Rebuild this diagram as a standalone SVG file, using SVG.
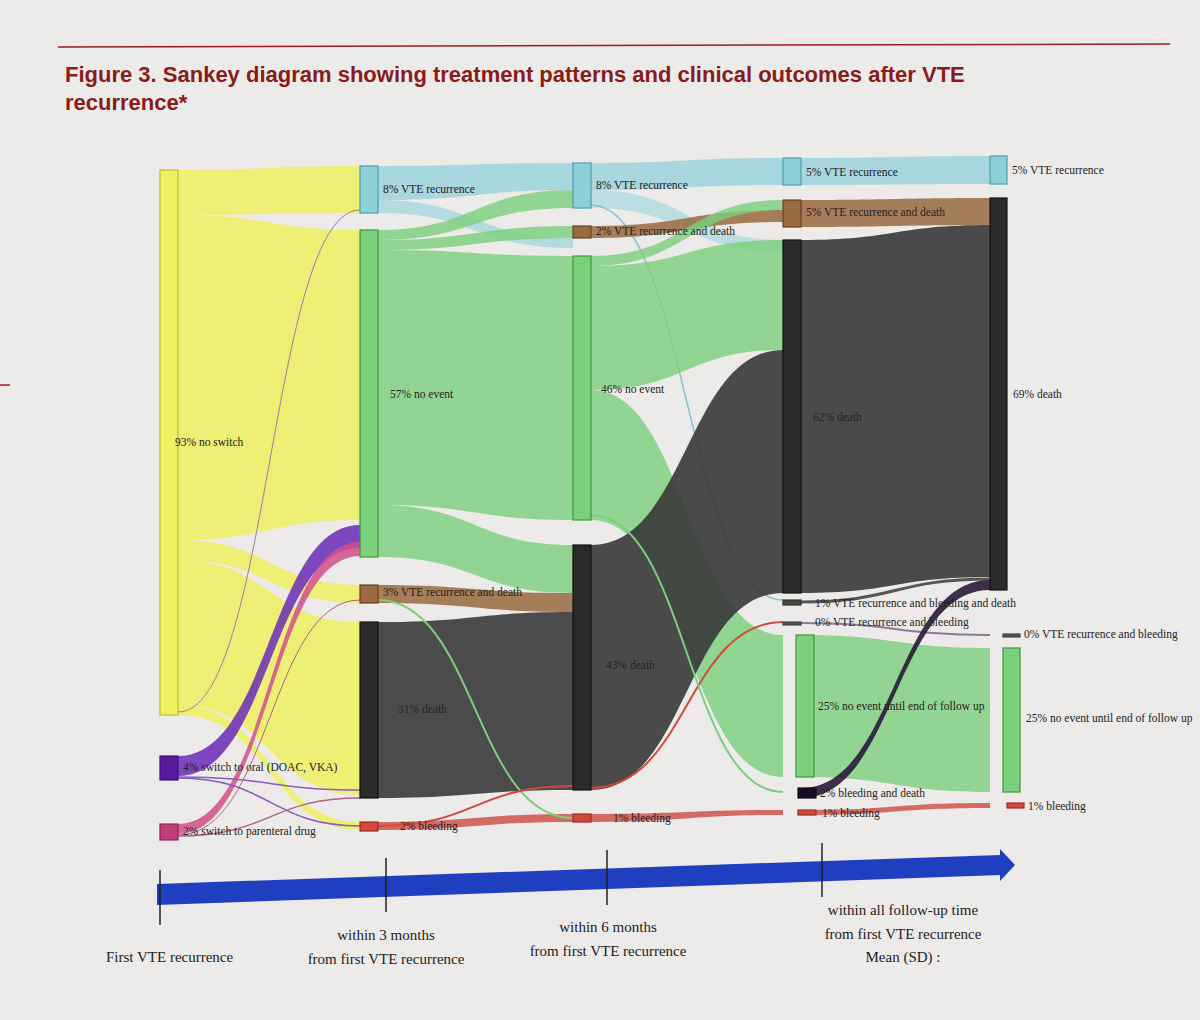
<svg xmlns="http://www.w3.org/2000/svg" width="1200" height="1020" viewBox="0 0 1200 1020">
<style>
.t{font-family:"Liberation Serif",serif;font-size:11.5px;fill:#222}
.ax{font-family:"Liberation Serif",serif;font-size:15px;fill:#222}
.l{stroke:none}
.n{stroke-width:1.2}
</style>
<rect width="1200" height="1020" fill="#ecebe9"/>
<line x1="58" y1="47" x2="1170" y2="44" stroke="#9a1f1f" stroke-width="1.5"/>
<line x1="0" y1="385" x2="10" y2="385" stroke="#9a1f1f" stroke-width="1.5"/>
<text x="65" y="82" font-family="'Liberation Sans',sans-serif" font-weight="bold" font-size="22" fill="#8b1a1a">Figure 3. Sankey diagram showing treatment patterns and clinical outcomes after VTE</text>
<text x="65" y="110" font-family="'Liberation Sans',sans-serif" font-weight="bold" font-size="22" fill="#8b1a1a">recurrence*</text>
<g id="connectors">
<!-- col0 -> col1 -->
<path class="l" fill="#eef060" opacity="0.85" d="M178 170 C270 170 270 166 360 166 L360 213 C270 213 270 215 178 215 Z"/>
<path class="l" fill="#eef060" opacity="0.85" d="M178 215 C270 215 270 230 360 230 L360 520 C270 520 270 540 178 540 Z"/>
<path class="l" fill="#eef060" opacity="0.85" d="M178 540 C270 540 270 585 360 585 L360 603 C270 603 270 560 178 560 Z"/>
<path class="l" fill="#eef060" opacity="0.85" d="M178 560 C270 560 270 622 360 622 L360 795 C270 795 270 705 178 705 Z"/>
<path class="l" fill="#eef060" opacity="0.85" d="M178 705 C270 705 270 822 360 822 L360 830 C270 830 270 715 178 715 Z"/>
<path class="l" fill="#6a2ab8" opacity="0.85" d="M178 756 C270 756 270 525 360 525 L360 548 C270 548 270 776 178 776 Z"/>
<path class="l" fill="#d0508a" opacity="0.85" d="M178 824 C270 824 270 542 360 542 L360 556 C270 556 270 834 178 834 Z"/>
<path fill="none" stroke="#8a5ac0" stroke-width="1.5" d="M178 777 C270 777 270 790 360 790"/>
<path fill="none" stroke="#8a5ac0" stroke-width="1.5" d="M178 778 C270 778 270 826 360 826"/>
<path fill="none" stroke="#b0608a" stroke-width="1.5" d="M178 836 C270 836 270 798 360 798"/>
<path fill="none" stroke="#b0608a" stroke-width="1" d="M178 835 C270 835 270 600 360 600"/>
<path fill="none" stroke="#9a7ab0" stroke-width="1" d="M178 712 C270 712 270 210 360 210"/>
<!-- col1 -> col2 -->
<path class="l" fill="#9dd4dc" opacity="0.85" d="M378 166 C475 166 475 163 573 163 L573 190 C475 190 475 200 378 200 Z"/>
<path class="l" fill="#9dd4dc" opacity="0.7" d="M378 200 C475 200 475 238 573 238 L573 248 C475 248 475 213 378 213 Z"/>
<path class="l" fill="#7ccf7c" opacity="0.8" d="M378 230 C475 230 475 190 573 190 L573 208 C475 208 475 240 378 240 Z"/>
<path class="l" fill="#7ccf7c" opacity="0.8" d="M378 240 C475 240 475 226 573 226 L573 238 C475 238 475 250 378 250 Z"/>
<path class="l" fill="#7ccf7c" opacity="0.8" d="M378 250 C475 250 475 256 573 256 L573 520 C475 520 475 505 378 505 Z"/>
<path class="l" fill="#7ccf7c" opacity="0.8" d="M378 505 C475 505 475 545 573 545 L573 593 C475 593 475 557 378 557 Z"/>
<path class="l" fill="#9a6a40" opacity="0.85" d="M378 585 C475 585 475 593 573 593 L573 612 C475 612 475 603 378 603 Z"/>
<path class="l" fill="#3a3a3a" opacity="0.9" d="M378 622 C475 622 475 612 573 612 L573 790 C475 790 475 798 378 798 Z"/>
<path class="l" fill="#d04a40" opacity="0.8" d="M378 822 C475 822 475 814 573 814 L573 822 C475 822 475 830 378 830 Z"/>
<path fill="none" stroke="#7ccf7c" stroke-width="2" d="M378 600 C475 600 475 818 573 818"/>
<path fill="none" stroke="#d04a40" stroke-width="2" d="M378 826 C475 826 475 786 573 786"/>
<!-- col2 -> col3 -->
<path class="l" fill="#9dd4dc" opacity="0.85" d="M591 163 C687 163 687 158 783 158 L783 185 C687 185 687 190 591 190 Z"/>
<path class="l" fill="#9dd4dc" opacity="0.6" d="M591 190 C687 190 687 240 783 240 L783 252 C687 252 687 208 591 208 Z"/>
<path fill="none" stroke="#7fc4d4" stroke-width="1.5" d="M591 205 C687 205 687 600 783 600"/>
<path class="l" fill="#9a6a40" opacity="0.85" d="M591 226 C687 226 687 210 783 210 L783 222 C687 222 687 238 591 238 Z"/>
<path class="l" fill="#7ccf7c" opacity="0.8" d="M591 256 C687 256 687 200 783 200 L783 210 C687 210 687 266 591 266 Z"/>
<path class="l" fill="#7ccf7c" opacity="0.8" d="M591 266 C687 266 687 240 783 240 L783 350 C687 350 687 390 591 390 Z"/>
<path class="l" fill="#7ccf7c" opacity="0.8" d="M591 390 C687 390 687 635 783 635 L783 777 C687 777 687 520 591 520 Z"/>
<path class="l" fill="#383838" opacity="0.9" d="M591 545 C687 545 687 350 783 350 L783 593 C687 593 687 790 591 790 Z"/>
<path class="l" fill="#d04a40" opacity="0.8" d="M591 814 C687 814 687 810 783 810 L783 815 C687 815 687 822 591 822 Z"/>
<path fill="none" stroke="#d04a40" stroke-width="2" d="M591 788 C687 788 687 622 783 622"/>
<path fill="none" stroke="#7ccf7c" stroke-width="2" d="M591 515 C687 515 687 792 783 792"/>
<!-- col3 -> col4 -->
<path class="l" fill="#9dd4dc" opacity="0.85" d="M801 158 C895 158 895 156 990 156 L990 184 C895 184 895 185 801 185 Z"/>
<path class="l" fill="#9a6a40" opacity="0.85" d="M801 200 C895 200 895 198 990 198 L990 225 C895 225 895 227 801 227 Z"/>
<path class="l" fill="#383838" opacity="0.9" d="M801 240 C895 240 895 225 990 225 L990 577 C895 577 895 593 801 593 Z"/>
<path fill="none" stroke="#555" stroke-width="3" d="M801 602 C895 602 895 579 990 579"/>
<path fill="none" stroke="#8a7a9a" stroke-width="2" d="M801 623 C895 623 895 635 990 635"/>
<path class="l" fill="#7ccf7c" opacity="0.8" d="M801 635 C895 635 895 648 990 648 L990 792 C895 792 895 777 801 777 Z"/>
<path class="l" fill="#2a1a3a" opacity="0.9" d="M801 788 C895 788 895 580 990 580 L990 590 C895 590 895 798 801 798 Z"/>
<path class="l" fill="#d04a40" opacity="0.8" d="M801 810 C895 810 895 803 990 803 L990 808 C895 808 895 815 801 815 Z"/>
</g>
<g id="n-noswitch"><rect class="n" x="160" y="170" width="18" height="545" fill="#eef060" stroke="#b8c030"/><text class="t" x="175" y="446">93% no switch</text></g>
<g id="n-oral"><rect class="n" x="160" y="756" width="18" height="24" fill="#5a1aa0" stroke="#40107a"/><text class="t" x="183" y="771">4% switch to oral (DOAC, VKA)</text></g>
<g id="n-parenteral"><rect class="n" x="160" y="824" width="18" height="16" fill="#c0407a" stroke="#902060"/><text class="t" x="183" y="835">2% switch to parenteral drug</text></g>
<g id="n-c1-vte"><rect class="n" x="360" y="166" width="18" height="47" fill="#8fd0d8" stroke="#4aa0b0"/><text class="t" x="383" y="193">8% VTE recurrence</text></g>
<g id="n-c1-noevent"><rect class="n" x="360" y="230" width="18" height="327" fill="#7ccf7c" stroke="#3a9a3a"/><text class="t" x="390" y="398">57% no event</text></g>
<g id="n-c1-vted"><rect class="n" x="360" y="585" width="18" height="18" fill="#9a6a40" stroke="#6a4020"/><text class="t" x="383" y="596">3% VTE recurrence and death</text></g>
<g id="n-c1-death"><rect class="n" x="360" y="622" width="18" height="176" fill="#2a2a2a" stroke="#111"/><text class="t" x="398" y="713">31% death</text></g>
<g id="n-c1-bleed"><rect class="n" x="360" y="822" width="18" height="9" fill="#d04a40" stroke="#a02a20"/><text class="t" x="400" y="830">2% bleeding</text></g>
<g id="n-c2-vte"><rect class="n" x="573" y="163" width="18" height="45" fill="#8fd0d8" stroke="#4aa0b0"/><text class="t" x="596" y="189">8% VTE recurrence</text></g>
<g id="n-c2-vted"><rect class="n" x="573" y="226" width="18" height="12" fill="#9a6a40" stroke="#6a4020"/><text class="t" x="596" y="235">2% VTE recurrence and death</text></g>
<g id="n-c2-noevent"><rect class="n" x="573" y="256" width="18" height="264" fill="#7ccf7c" stroke="#3a9a3a"/><text class="t" x="601" y="393">46% no event</text></g>
<g id="n-c2-death"><rect class="n" x="573" y="545" width="18" height="245" fill="#2a2a2a" stroke="#111"/><text class="t" x="606" y="669">43% death</text></g>
<g id="n-c2-bleed"><rect class="n" x="573" y="814" width="18" height="8" fill="#d04a40" stroke="#a02a20"/><text class="t" x="613" y="822">1% bleeding</text></g>
<g id="n-c3-vte"><rect class="n" x="783" y="158" width="18" height="27" fill="#8fd0d8" stroke="#4aa0b0"/><text class="t" x="806" y="176">5% VTE recurrence</text></g>
<g id="n-c3-vted"><rect class="n" x="783" y="200" width="18" height="27" fill="#9a6a40" stroke="#6a4020"/><text class="t" x="806" y="216">5% VTE recurrence and death</text></g>
<g id="n-c3-death"><rect class="n" x="783" y="240" width="18" height="353" fill="#2a2a2a" stroke="#111"/><text class="t" x="813" y="421">62% death</text></g>
<g id="n-c3-vtebd"><rect class="n" x="783" y="600" width="18" height="5" fill="#4a4a3a" stroke="#333"/><text class="t" x="815" y="607">1% VTE recurrence and bleeding and death</text></g>
<g id="n-c3-vteb"><rect class="n" x="783" y="622" width="18" height="3" fill="#5a4a6a" stroke="#444"/><text class="t" x="815" y="626">0% VTE recurrence and bleeding</text></g>
<g id="n-c3-noevent"><rect class="n" x="796" y="635" width="18" height="142" fill="#7ccf7c" stroke="#3a9a3a"/><text class="t" x="818" y="710">25% no event until end of follow up</text></g>
<g id="n-c3-bd"><rect class="n" x="798" y="788" width="18" height="10" fill="#1a0a20" stroke="#111"/><text class="t" x="820" y="797">2% bleeding and death</text></g>
<g id="n-c3-bleed"><rect class="n" x="798" y="810" width="18" height="5" fill="#d04a40" stroke="#a02a20"/><text class="t" x="822" y="817">1% bleeding</text></g>
<g id="n-c4-vte"><rect class="n" x="990" y="156" width="17" height="28" fill="#8fd0d8" stroke="#4aa0b0"/><text class="t" x="1012" y="174">5% VTE recurrence</text></g>
<g id="n-c4-death"><rect class="n" x="990" y="198" width="17" height="392" fill="#2a2a2a" stroke="#111"/><text class="t" x="1013" y="398">69% death</text></g>
<g id="n-c4-vteb"><rect class="n" x="1003" y="634" width="17" height="3" fill="#5a4a6a" stroke="#444"/><text class="t" x="1024" y="638">0% VTE recurrence and bleeding</text></g>
<g id="n-c4-noevent"><rect class="n" x="1003" y="648" width="17" height="144" fill="#7ccf7c" stroke="#3a9a3a"/><text class="t" x="1026" y="722">25% no event until end of follow up</text></g>
<g id="n-c4-bleed"><rect class="n" x="1007" y="803" width="17" height="5" fill="#d04a40" stroke="#a02a20"/><text class="t" x="1028" y="810">1% bleeding</text></g>
<g id="axis">
<polygon points="157,884 1000,855 1000,849 1015,865 1000,881 1000,875 157,905" fill="#1f3fc0"/>
<g stroke="#222" stroke-width="1.5"><line x1="160" y1="870" x2="160" y2="925"/><line x1="386" y1="858" x2="386" y2="912"/><line x1="607" y1="850" x2="607" y2="905"/><line x1="822" y1="843" x2="822" y2="897"/></g>
<text class="ax" x="106" y="962">First VTE recurrence</text>
<text class="ax" x="386" y="940" text-anchor="middle">within 3 months</text>
<text class="ax" x="386" y="964" text-anchor="middle">from first VTE recurrence</text>
<text class="ax" x="608" y="932" text-anchor="middle">within 6 months</text>
<text class="ax" x="608" y="956" text-anchor="middle">from first VTE recurrence</text>
<text class="ax" x="903" y="915" text-anchor="middle">within all follow-up time</text>
<text class="ax" x="903" y="939" text-anchor="middle">from first VTE recurrence</text>
<text class="ax" x="903" y="962" text-anchor="middle">Mean (SD) :</text>
</g>
</svg>
